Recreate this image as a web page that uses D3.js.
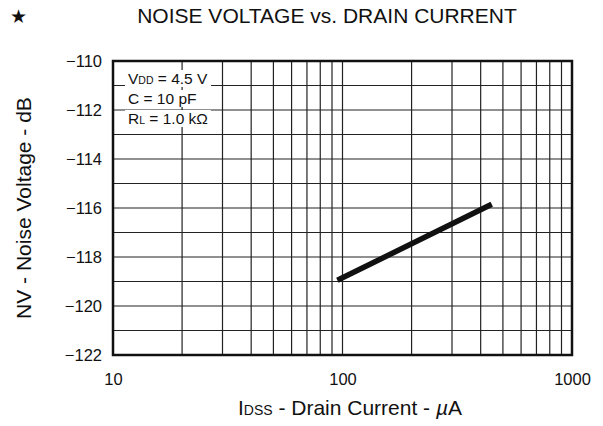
<!DOCTYPE html>
<html><head><meta charset="utf-8">
<script src="https://cdn.jsdelivr.net/npm/d3@7"></script>
<style>body{margin:0;background:#fff}svg{display:block;font-family:"Liberation Sans",Arial,sans-serif}</style>
</head><body><svg id="c" width="603" height="426"></svg>
<script>
const xDomain = [10, 1000];
const yDomain = [-122, -110];
const xTickLabels = [10, 100, 1000];
const yTickLabels = [-122, -120, -118, -116, -114, -112, -110];
const seriesCurrent = [95, 447];
const seriesNoise = [-118.95, -115.85];
const legendLines = [["V", "DD", " = 4.5 V"], ["C = 10 pF", "", ""], ["R", "L", " = 1.0 k\u03A9"]];

const svg = d3.select("#c");
const L = 113, R = 572, T = 61, B = 355;
const x = d3.scaleLog().domain(xDomain).range([L, R]);
const y = d3.scaleLinear().domain(yDomain).range([B, T]);

// grid
const xGrid = [];
for (let d = 10; d < 1000; d *= 10) for (let k = 1; k <= 9; k++) xGrid.push(d * k);
const yGrid = d3.range(yDomain[0], yDomain[1] + 1, 1);
const g = svg.append("g");
g.selectAll(".vx").data(xGrid).join("line")
  .attr("x1", d => x(d)).attr("x2", d => x(d)).attr("y1", T).attr("y2", B)
  .attr("stroke", "#222").attr("stroke-width", 1.2);
g.selectAll(".hy").data(yGrid).join("line")
  .attr("y1", d => y(d)).attr("y2", d => y(d)).attr("x1", L).attr("x2", R)
  .attr("stroke", "#222").attr("stroke-width", 1.2);

// legend text with white backgrounds
const lg = svg.append("g");
legendLines.forEach((ln, i) => {
  const ty = 84 + i * 20;
  const t = lg.append("text").attr("x", 128).attr("y", ty).attr("font-size", 15.5).attr("fill", "#111");
  t.append("tspan").text(ln[0]);
  if (ln[1]) t.append("tspan").attr("font-size", 10.5).text(ln[1]);
  if (ln[2]) t.append("tspan").text(ln[2]);
  const bb = t.node().getBBox();
  lg.insert("rect", "text").attr("x", bb.x - 3).attr("y", bb.y).attr("width", bb.width + 6).attr("height", bb.height).attr("fill", "#fff");
});

// frame
svg.append("rect").attr("x", L).attr("y", T).attr("width", R - L).attr("height", B - T)
  .attr("fill", "none").attr("stroke", "#111").attr("stroke-width", 2.5);

// data line
svg.append("path").datum(seriesCurrent.map((c, i) => [c, seriesNoise[i]]))
  .attr("d", d3.line().x(d => x(d[0])).y(d => y(d[1])))
  .attr("stroke", "#111").attr("stroke-width", 5.5).attr("fill", "none");

// axes labels
const xAxis = d3.axisBottom(x).tickValues(xTickLabels).tickFormat(d3.format("d")).tickSize(0).tickPadding(18);
const xa = svg.append("g").attr("transform", `translate(0,${B})`).call(xAxis);
xa.select(".domain").remove();
xa.selectAll("text").attr("font-size", 16.5).attr("fill", "#111").attr("font-family", "Liberation Sans, Arial, sans-serif");

const yAxis = d3.axisLeft(y).tickValues(yTickLabels).tickFormat(d => "\u2212" + Math.abs(d)).tickSize(0).tickPadding(11);
const ya = svg.append("g").attr("transform", `translate(${L},0)`).call(yAxis);
ya.select(".domain").remove();
ya.selectAll("text").attr("font-size", 16.5).attr("fill", "#111").attr("font-family", "Liberation Sans, Arial, sans-serif");

// title
svg.append("text").attr("x", 327).attr("y", 23).attr("text-anchor", "middle").attr("font-size", 21).attr("fill", "#111")
  .text("NOISE VOLTAGE vs. DRAIN CURRENT");
svg.append("text").attr("x", 18).attr("y", 23).attr("text-anchor", "middle").attr("font-size", 19).attr("fill", "#111").text("\u2605");

// y title
svg.append("text").attr("transform", "translate(31,208) rotate(-90)").attr("text-anchor", "middle").attr("font-size", 21).attr("fill", "#111")
  .text("NV - Noise Voltage - dB");

// x title
const xt = svg.append("text").attr("x", 350).attr("y", 415).attr("text-anchor", "middle").attr("font-size", 21).attr("fill", "#111");
xt.append("tspan").text("I");
xt.append("tspan").attr("font-size", 14).text("DSS");
xt.append("tspan").text(" - Drain Current - ");
xt.append("tspan").attr("font-style", "italic").text("\u00B5");
xt.append("tspan").text("A");
</script></body></html>
